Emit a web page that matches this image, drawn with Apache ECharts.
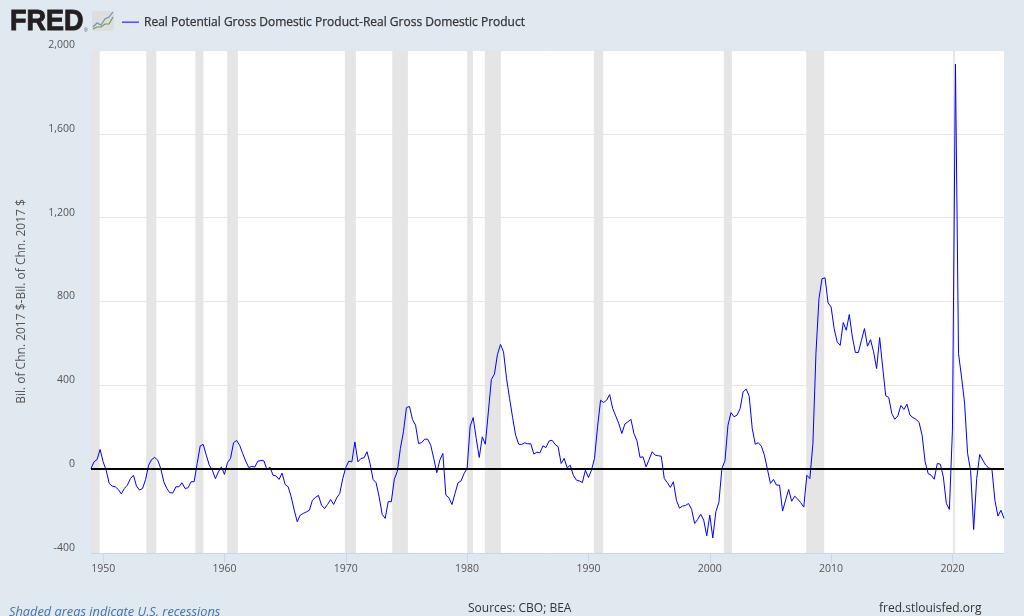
<!DOCTYPE html>
<html><head><meta charset="utf-8">
<style>html,body{margin:0;padding:0;background:#e1e9f0;overflow:hidden}#c{width:1024px;height:616px}</style>
<script src="https://cdn.jsdelivr.net/npm/echarts@6/dist/echarts.min.js"></script>
</head><body><div id="c"></div>
<script>
const seriesName = 'Real Potential Gross Domestic Product-Real Gross Domestic Product';
const yAxisName = 'Bil. of Chn. 2017 $-Bil. of Chn. 2017 $';
const startYear = 1949;
const tickYears = [1950,1960,1970,1980,1990,2000,2010,2020];
const yTicks = {min:-400,max:2000,step:400};
const gap1949s = [3,35,46,94, 35,-5,-68,-81, -84,-97,-118,-92, -76,-45,-29,-81, -100,-92,-49,19, 46,56,43,3, -60,-92,-113,-113, -84,-84,-65,-92, -89,-60,-60,27, 111,118,67,19, -5,-45,-13,11, -25,32,51,126];
const gap1961s = [137,114,75,38, 8,13,10,38, 41,40,-2,10, -29,-32,-49,-19, -73,-84,-132,-196, -251,-219,-211,-204, -196,-148,-135,-125, -172,-188,-168,-145, -168,-137,-116,-45, 8,38,35,130, 35,51,54,83];
const gap1972s = [27,-49,-65,-132, -216,-235,-154,-156, -48,-10,99,178, 294,299,237,210, 122,127,143,143, 114,51,-17,43, 75,-124,-137,-169, -116,-65,-56,-21, 3,205,246,146, 56,154,119,273, 428,453,547,595];
const gap1983s = [560,432,337,246, 162,119,118,126, 121,121,72,81, 78,111,103,134, 138,118,107,27, 51,6,19,-29, -52,-56,-64,-5, -40,-5,51,202, 329,318,329,356, 289,254,218,170, 215,226,238,170];
const gap1994s = [135,56,59,11, 46,83,67,64, 62,-45,-64,-87, -60,-148,-186,-176, -173,-164,-191,-259, -240,-215,-243,-318, -219,-328,-203,-159, 3,40,210,270, 250,258,289,369, 382,348,194,119, 126,110,67,0, -68,-49,-76,-76];
const gap2006s = [-200,-148,-97,-153, -129,-143,-160,-181, -29,-45,122,552, 814,909,913,793, 774,671,607,591, 700,663,738,631, 557,557,615,671, 587,618,560,480, 628,488,350,342, 266,238,254,304, 285,310,258,246, 238,223,162,35];
const gap2018s = [-21,-29,-48,27, 24,-37,-164,-192, 186,1932,552,440, 316,75,-8,-288, -45,70,43,19, 5,3,-148,-224, -196,-235];
const gapValues = [].concat(gap1949s,gap1961s,gap1972s,gap1983s,gap1994s,gap2006s,gap2018s);
const recessions = [[1949,1949.72],[1953.56,1954.38],[1957.6,1958.26],[1960.23,1961.11],[1969.92,1970.83],[1973.83,1975.12],[1980.01,1980.47],[1981.46,1982.78],[1990.44,1991.22],[2001.16,2001.82],[2007.95,2009.43],[2020.05,2020.2]];
const footerNote = 'Shaded areas indicate U.S. recessions';
const footerSource = 'Sources: CBO; BEA';
const footerSite = 'fred.stlouisfed.org';

const font = '"Open Sans", sans-serif';
const points = gapValues.map((v,i)=>[startYear+i/4,v]);
const chart = echarts.init(document.getElementById('c'),null,{renderer:'canvas'});
chart.setOption({
  animation:false,
  backgroundColor:'#e1e9f0',
  textStyle:{fontFamily:font},
  grid:{left:91,right:20,top:50,bottom:63,show:true,backgroundColor:'#fff',borderWidth:0},
  legend:{left:117,top:11,itemWidth:17,itemHeight:10,itemGap:0,icon:'path://M0 0H17V1H0Z',
    data:[seriesName],selectedMode:false,
    textStyle:{fontFamily:font,fontSize:12,color:'#333',fontWeight:400,textBorderColor:'#333',textBorderWidth:0.25,padding:[0,0,0,0]}},
  xAxis:{type:'value',min:startYear,max:2024.25,
    axisLine:{show:true,onZero:false,lineStyle:{color:'#ccd6eb',width:1}},
    axisTick:{show:true,length:10,lineStyle:{color:'#ccd6eb'},customValues:tickYears},
    axisLabel:{fontFamily:font,fontSize:10.5,color:'#555',margin:11,customValues:tickYears,formatter:v=>String(v)},
    splitLine:{show:false}},
  yAxis:{type:'value',min:yTicks.min,max:yTicks.max,interval:yTicks.step,
    name:yAxisName,nameLocation:'middle',nameGap:63,nameTextStyle:{fontFamily:font,fontSize:12,color:'#555'},
    axisLine:{show:false},axisTick:{show:false},
    axisLabel:{fontFamily:font,fontSize:10.5,color:'#555',margin:16,verticalAlign:'bottom',lineHeight:10,
      formatter:v=>v.toLocaleString('en-US')},
    splitLine:{show:true,lineStyle:{color:'#e6e6e6',width:1}}},
  series:[{
    name:seriesName,type:'line',data:points,showSymbol:false,symbol:'none',
    lineStyle:{color:'#0000ff',width:1},itemStyle:{color:'#0000ff'},clip:true,
    markArea:{silent:true,itemStyle:{color:'#e5e5e5'},data:recessions.map(r=>[{xAxis:r[0]},{xAxis:r[1]}])},
    markLine:{silent:true,symbol:'none',animation:false,label:{show:false},lineStyle:{color:'#000',width:2,type:'solid'},data:[{yAxis:0}]},
    z:3
  }],
  graphic:[
    {type:'text',x:10,y:7,scaleX:0.93,style:{text:'FRED',font:'bold 29px "Liberation Sans", sans-serif',fill:'#231f20',stroke:'#231f20',lineWidth:1}},
    {type:'text',x:84,y:28,style:{text:'®',font:'5px "Liberation Sans", sans-serif',fill:'#555'}},
    {type:'rect',shape:{x:92,y:11,width:22,height:20,r:2},style:{fill:'#dcdedf'}},
    {type:'polyline',shape:{points:[[93,27],[97,23],[101,25],[105,19],[109,17],[113,12]]},style:{fill:'none',stroke:'#6f93ad',lineWidth:1.2}},
    {type:'polyline',shape:{points:[[93,29],[97,27],[101,27],[105,24],[109,24],[113,17]]},style:{fill:'none',stroke:'#6f9a4e',lineWidth:1.2}},
    {type:'text',left:9,top:606,style:{text:footerNote,font:'italic 12.8px '+font,fill:'#4572a7'}},
    {type:'text',left:468,top:603,style:{text:footerSource,font:'12px '+font,fill:'#333'}},
    {type:'text',left:879,top:603,style:{text:footerSite,font:'12px '+font,fill:'#333'}}
  ]
});
</script></body></html>
